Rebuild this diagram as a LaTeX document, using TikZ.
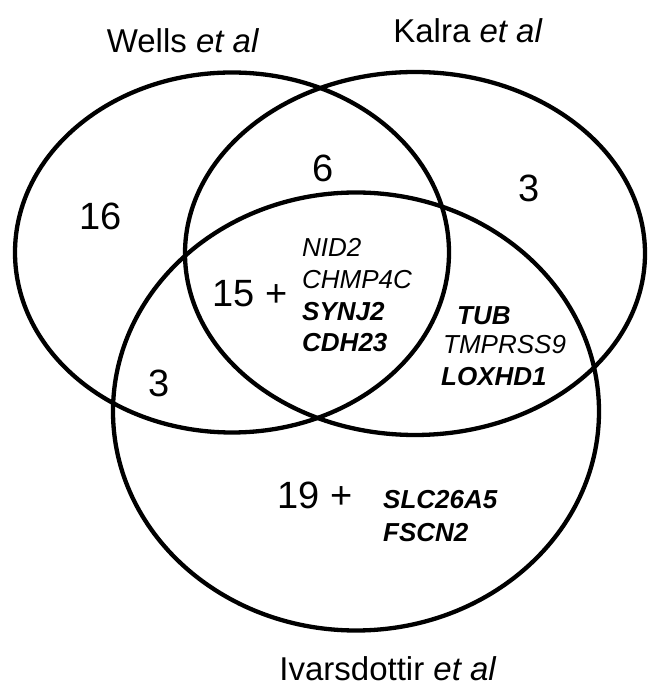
\documentclass[tikz,border=0pt]{standalone}
\usepackage{fontspec}
\setmainfont{Liberation Sans}

\tikzset{
  venn/.style={line width=4.3pt},
  study/.style={anchor=base, inner sep=0pt, font=\fontsize{33pt}{40pt}\selectfont},
  count/.style={anchor=base, inner sep=0pt, font=\fontsize{38pt}{46pt}\selectfont},
  gene/.style={anchor=base west, inner sep=0pt, font=\fontsize{26pt}{31pt}\selectfont\itshape},
  keygene/.style={gene, font=\fontsize{26pt}{31pt}\selectfont\bfseries\itshape}
}

\begin{document}
\begin{tikzpicture}[x=1pt, y=1pt]
      \useasboundingbox (0,0) rectangle (649,688);

      \draw[venn] (232,435.5) ellipse [x radius=217pt, y radius=180pt];
      \draw[venn] (415,434.5) ellipse [x radius=230pt, y radius=181.5pt];
      \draw[venn] (356,276.5) ellipse [x radius=243pt, y radius=219pt];

      \node[study] (Wells) at (183, 635) {Wells \textit{et al}};
      \node[study] (Kalra) at (468, 645) {Kalra \textit{et al}};
      \node[study] (Ivars) at (388, 8) {Ivarsdottir \textit{et al}};

      \node[count] (W) at (101, 458) {16};
      \node[count] (WK) at (323, 506) {6};
      \node[count] (K) at (529, 486) {3};
      \node[count] (WKI) at (250, 381) {15 +};
      \node[count] (WI) at (159, 291) {3};
      \node[count] (I) at (315, 179) {19 +};

      \node[gene] (NID) at (302, 431) {NID2};
      \node[gene] (CHMP) at (302, 399) {CHMP4C};
      \node[keygene] (SYNJ) at (302, 367) {SYNJ2};
      \node[keygene] (CDH) at (302, 336) {CDH23};

      \node[keygene] (TUB) at (457, 363) {TUB};
      \node[gene] (TMPRSS) at (443, 334) {TMPRSS9};
      \node[keygene] (LOXHD) at (441, 302) {LOXHD1};

      \node[keygene] (SLC) at (383, 179) {SLC26A5};
      \node[keygene] (FSCN) at (383, 146) {FSCN2};
    \end{tikzpicture}
\end{document}
